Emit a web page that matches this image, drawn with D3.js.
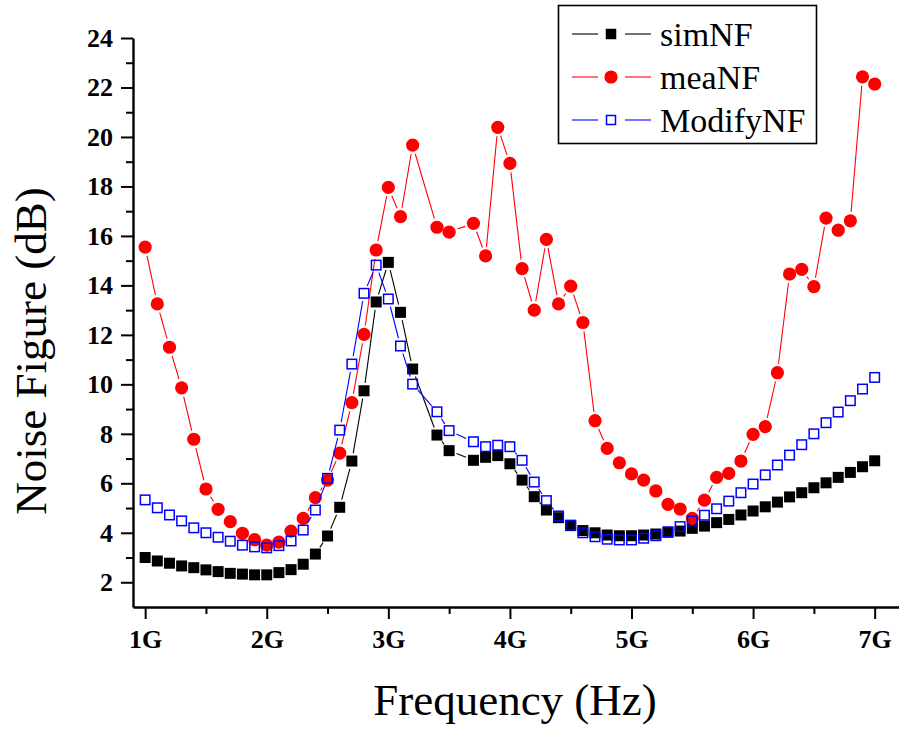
<!DOCTYPE html>
<html>
  <head>
    <meta charset="utf-8">
    <title>Noise Figure</title>
    <script src="https://d3js.org/d3.v7.min.js"></script>
    <style>
      body { margin: 0; background: #fff; }
      svg { display: block; }
      .serif { font-family: "Liberation Serif", Tinos, "Times New Roman", Times, "Nimbus Roman", "DejaVu Serif", serif; }
      .tick text { font-family: "Liberation Serif", Tinos, "Times New Roman", Times, "Nimbus Roman", "DejaVu Serif", serif; font-weight: bold; font-size: 26px; }
      .title { font-size: 45px; }
      .legend text { font-size: 34px; }
    </style>
  </head>
  <body>
    <svg width="899" height="731"></svg>

    <script>
      // frequency points (GHz) - 3.3G and 3.6G were not measured
      const freq = [1.0, 1.1, 1.2, 1.3, 1.4, 1.5, 1.6, 1.7, 1.8, 1.9, 2.0, 2.1, 2.2, 2.3, 2.4, 2.5, 2.6, 2.7, 2.8, 2.9,
        3.0, 3.1, 3.2, 3.4, 3.5, 3.7, 3.8, 3.9, 4.0, 4.1, 4.2, 4.3, 4.4, 4.5, 4.6, 4.7, 4.8, 4.9,
        5.0, 5.1, 5.2, 5.3, 5.4, 5.5, 5.6, 5.7, 5.8, 5.9, 6.0, 6.1, 6.2, 6.3, 6.4, 6.5, 6.6, 6.7, 6.8, 6.9, 7.0];

      const simNF = [3.00, 2.86, 2.77, 2.66, 2.59, 2.50, 2.43, 2.36, 2.33, 2.30, 2.30, 2.39, 2.51, 2.73, 3.14, 3.87, 5.03, 6.90, 9.74, 13.33,
        14.93, 12.91, 10.62, 7.95, 7.32, 6.93, 7.05, 7.12, 6.79, 6.13, 5.46, 4.92, 4.61, 4.29, 4.09, 4.00, 3.91, 3.88,
        3.88, 3.91, 3.95, 4.02, 4.07, 4.18, 4.27, 4.41, 4.54, 4.72, 4.88, 5.05, 5.24, 5.45, 5.62, 5.82, 6.02, 6.24, 6.44, 6.67, 6.91];

      const meaNF = [15.55, 13.25, 11.50, 9.86, 7.78, 5.77, 4.95, 4.45, 3.98, 3.72, 3.50, 3.62, 4.07, 4.58, 5.42, 6.13, 7.22, 9.26, 12.02, 15.43,
        17.96, 16.78, 19.67, 16.35, 16.15, 16.51, 15.19, 20.39, 18.93, 14.68, 13.00, 15.86, 13.25, 13.97, 12.50, 8.53, 7.41, 6.83,
        6.38, 6.13, 5.69, 5.15, 4.96, 4.58, 5.32, 6.24, 6.40, 6.90, 7.98, 8.29, 10.47, 14.46, 14.65, 13.95, 16.72, 16.23, 16.61, 22.43, 22.14];

      const modifyNF = [5.33, 5.01, 4.72, 4.48, 4.20, 4.00, 3.82, 3.66, 3.50, 3.43, 3.39, 3.48, 3.67, 4.11, 4.92, 6.20, 8.15, 10.82, 13.68, 14.82,
        13.45, 11.55, 10.01, 8.89, 8.13, 7.68, 7.48, 7.54, 7.48, 6.93, 6.05, 5.30, 4.68, 4.31, 4.00, 3.84, 3.74, 3.71,
        3.71, 3.78, 3.88, 4.04, 4.25, 4.48, 4.71, 4.97, 5.28, 5.62, 5.97, 6.34, 6.74, 7.14, 7.56, 8.00, 8.45, 8.88, 9.34, 9.81, 10.28];

      const xTicks = [1, 2, 3, 4, 5, 6, 7];
      const xMinor = [1.5, 2.5, 3.5, 4.5, 5.5, 6.5];
      const yTicks = [2, 4, 6, 8, 10, 12, 14, 16, 18, 20, 22, 24];
      const yMinor = [3, 5, 7, 9, 11, 13, 15, 17, 19, 21, 23];

      const series = [
        { name: "simNF", values: simNF, color: "#000000", symbol: "square" },
        { name: "meaNF", values: meaNF, color: "#ff0000", symbol: "circle" },
        { name: "ModifyNF", values: modifyNF, color: "#0000ff", symbol: "open" }
      ];

      let svg = d3.select("svg");

      let xScale = d3.scaleLinear().domain([0.9, 7.2]).range([133, 899]);
      let yScale = d3.scaleLinear().domain([1, 24]).range([607, 38]);

      // minor ticks
      svg.append("g")
        .attr("transform", "translate(0,607)")
        .call(d3.axisBottom(xScale).tickValues(xMinor).tickSize(7).tickSizeOuter(0).tickFormat(""))
        .call(g => g.select(".domain").remove())
        .selectAll("line").attr("stroke-width", 2);
      svg.append("g")
        .attr("transform", "translate(133,0)")
        .call(d3.axisLeft(yScale).tickValues(yMinor).tickSize(7).tickSizeOuter(0).tickFormat(""))
        .call(g => g.select(".domain").remove())
        .selectAll("line").attr("stroke-width", 2);

      // major axes
      let xAxis = svg.append("g")
        .attr("transform", "translate(0,607)")
        .call(d3.axisBottom(xScale).tickValues(xTicks).tickSize(12).tickSizeOuter(0).tickPadding(11)
          .tickFormat(d => d + "G"));
      xAxis.attr("font-family", null).attr("font-size", null);
      xAxis.selectAll("line").attr("stroke-width", 2);
      xAxis.select(".domain").attr("stroke-width", 2.4);
      xAxis.selectAll("text").attr("fill", "#000");

      let yAxis = svg.append("g")
        .attr("transform", "translate(133,0)")
        .call(d3.axisLeft(yScale).tickValues(yTicks).tickSize(12).tickSizeOuter(0).tickPadding(8));
      yAxis.attr("font-family", null).attr("font-size", null);
      yAxis.selectAll("line").attr("stroke-width", 2);
      yAxis.select(".domain").attr("stroke-width", 2.4);
      yAxis.selectAll("text").attr("fill", "#000");

      // axis titles
      svg.append("text")
        .attr("class", "title serif")
        .attr("text-anchor", "middle")
        .attr("x", 515)
        .attr("y", 715)
        .text("Frequency (Hz)");

      svg.append("text")
        .attr("class", "title serif")
        .attr("text-anchor", "middle")
        .attr("transform", "translate(46,351) rotate(-90)")
        .text("Noise Figure (dB)");

      // lines with small gaps around the symbols
      function gapped(points, gap) {
        let segs = [];
        for (let i = 0; i < points.length - 1; i++) {
          let a = points[i], b = points[i + 1];
          let dx = b[0] - a[0], dy = b[1] - a[1];
          let len = Math.sqrt(dx * dx + dy * dy);
          if (len <= gap * 2 + 1) continue;
          let ux = dx / len, uy = dy / len;
          segs.push([a[0] + ux * gap, a[1] + uy * gap, b[0] - ux * gap, b[1] - uy * gap]);
        }
        return segs;
      }

      function drawSymbol(g, s, x, y, size) {
        if (s.symbol === "circle") {
          g.append("circle").attr("cx", x).attr("cy", y).attr("r", size * 0.6).attr("fill", s.color);
        } else if (s.symbol === "square") {
          g.append("rect").attr("x", x - size / 2).attr("y", y - size / 2)
            .attr("width", size).attr("height", size).attr("fill", s.color);
        } else {
          g.append("rect").attr("x", x - size / 2 + 0.75).attr("y", y - size / 2 + 0.75)
            .attr("width", size - 1.5).attr("height", size - 1.5)
            .attr("fill", "none").attr("stroke", s.color).attr("stroke-width", 1.5);
        }
      }

      series.forEach(function(s) {
        let pts = freq.map((f, i) => [xScale(f), yScale(s.values[i])]);
        let g = svg.append("g");
        let gap = s.symbol === "circle" ? 9 : 8;
        g.selectAll("line")
          .data(gapped(pts, gap))
          .enter().append("line")
            .attr("x1", d => d[0]).attr("y1", d => d[1])
            .attr("x2", d => d[2]).attr("y2", d => d[3])
            .attr("stroke", s.color)
            .attr("stroke-width", 1.1);
        pts.forEach(p => drawSymbol(g, s, p[0], p[1], 11));
      });

      // legend
      let legend = svg.append("g").attr("class", "legend serif");
      legend.append("rect")
        .attr("x", 558.5).attr("y", 5.5)
        .attr("width", 258).attr("height", 138)
        .attr("fill", "#fff").attr("stroke", "#000").attr("stroke-width", 1.6);

      series.forEach(function(s, i) {
        let cy = 34 + i * 43;
        legend.append("line").attr("x1", 572).attr("x2", 598).attr("y1", cy).attr("y2", cy)
          .attr("stroke", s.color).attr("stroke-width", 1.1);
        legend.append("line").attr("x1", 625).attr("x2", 651).attr("y1", cy).attr("y2", cy)
          .attr("stroke", s.color).attr("stroke-width", 1.1);
        drawSymbol(legend, s, 611, cy, s.symbol === "circle" ? 11 : 10.5);
        legend.append("text")
          .attr("class", "serif")
          .attr("x", 660)
          .attr("y", cy + 12)
          .text(s.name);
      });
    </script>
  </body>
</html>
